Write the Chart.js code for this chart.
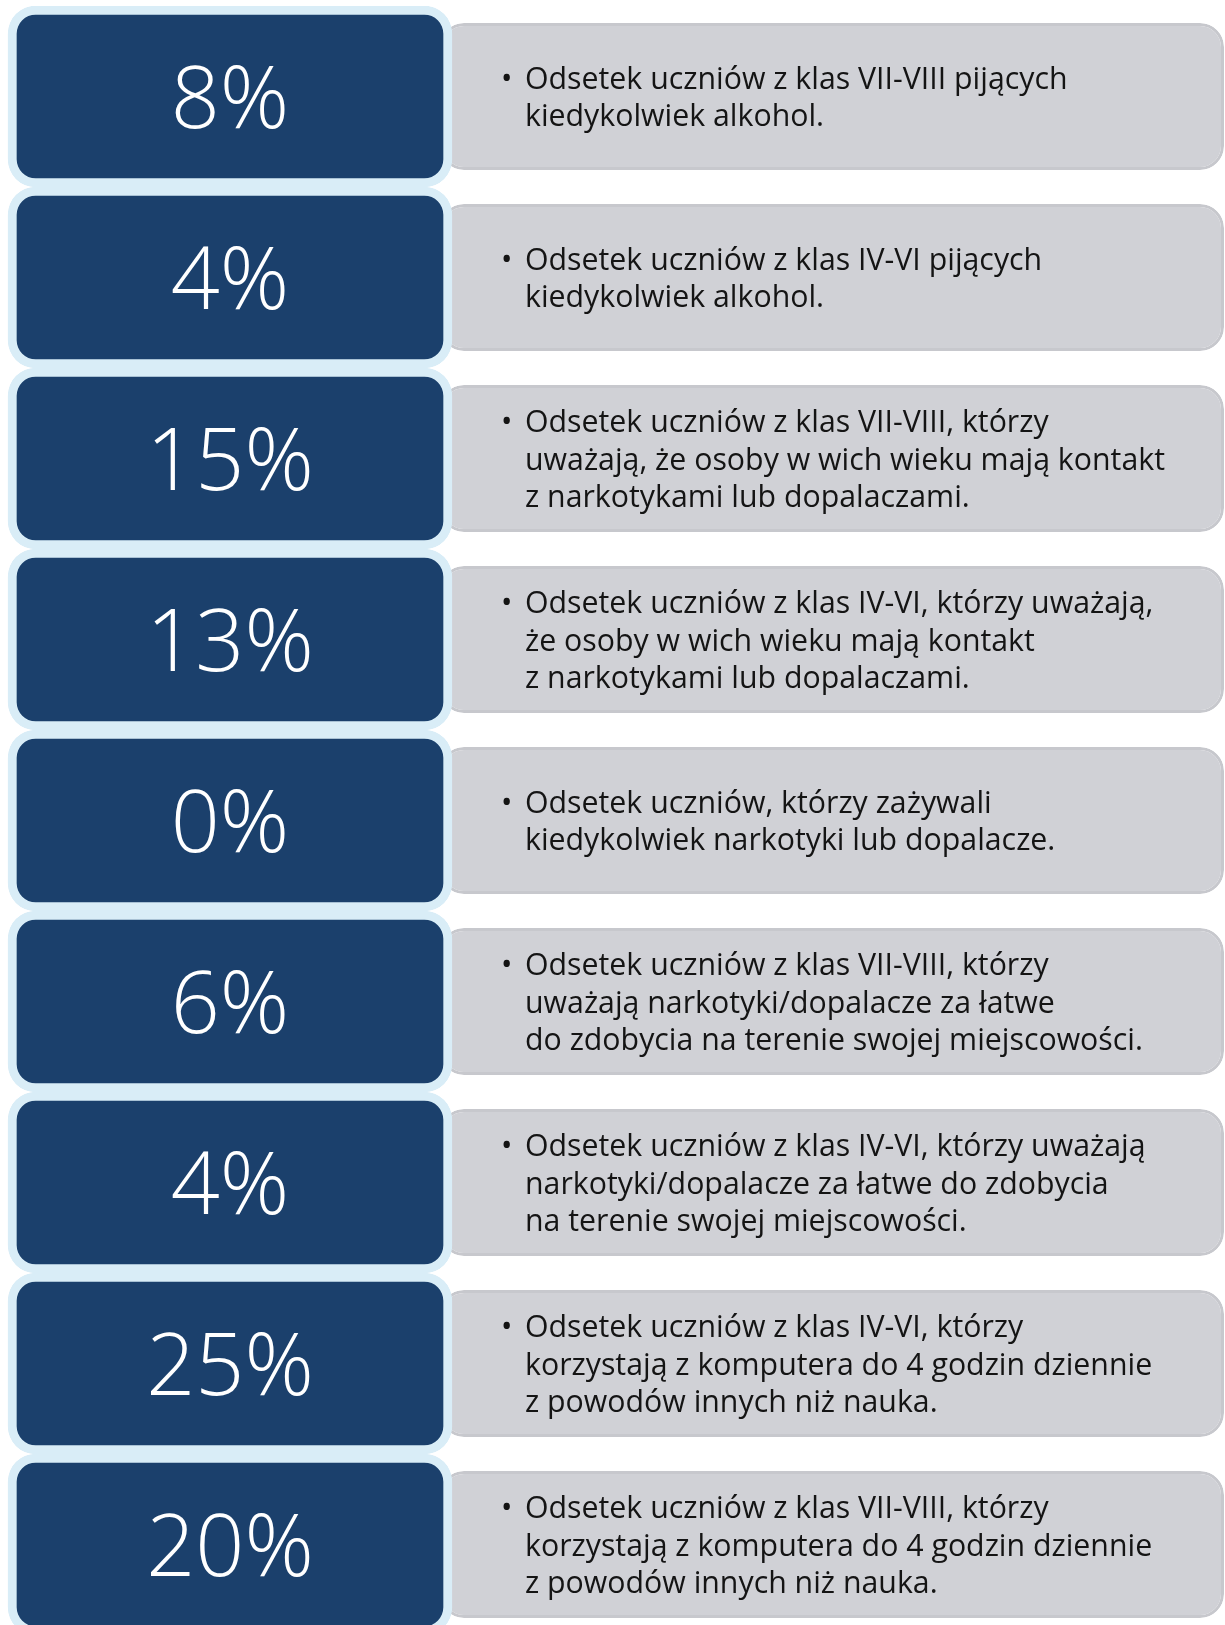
<!DOCTYPE html>
<html>
<head>
<meta charset="utf-8">
<script src="https://cdn.jsdelivr.net/npm/chart.js@4.4.0/dist/chart.umd.min.js"></script>
<style>
  html, body { margin: 0; padding: 0; background: #fff; overflow: hidden; }
  #wrap { width: 1225px; height: 1641px; }
</style>
</head>
<body>
<div id="wrap"><canvas id="infoChart" width="1225" height="1641"></canvas></div>
<script>
// percentages shown in the dark boxes
const values = [8, 4, 15, 13, 0, 6, 4, 25, 20];
const labels = values.map(v => v + '%');

// description lines for each row (same line breaks as the original)
const descriptions = [
    ['Odsetek uczniów z klas VII-VIII pijących', 'kiedykolwiek alkohol.'],
    ['Odsetek uczniów z klas IV-VI pijących', 'kiedykolwiek alkohol.'],
    ['Odsetek uczniów z klas VII-VIII, którzy', 'uważają, że osoby w wich wieku mają kontakt', 'z narkotykami lub dopalaczami.'],
    ['Odsetek uczniów z klas IV-VI, którzy uważają,', 'że osoby w wich wieku mają kontakt', 'z narkotykami lub dopalaczami.'],
    ['Odsetek uczniów, którzy zażywali', 'kiedykolwiek narkotyki lub dopalacze.'],
    ['Odsetek uczniów z klas VII-VIII, którzy', 'uważają narkotyki/dopalacze za łatwe', 'do zdobycia na terenie swojej miejscowości.'],
    ['Odsetek uczniów z klas IV-VI, którzy uważają', 'narkotyki/dopalacze za łatwe do zdobycia', 'na terenie swojej miejscowości.'],
    ['Odsetek uczniów z klas IV-VI, którzy', 'korzystają z komputera do 4 godzin dziennie', 'z powodów innych niż nauka.'],
    ['Odsetek uczniów z klas VII-VIII, którzy', 'korzystają z komputera do 4 godzin dziennie', 'z powodów innych niż nauka.']
];

// layout of the two panels on the x axis (page pixels)
const BOX_SPAN = [8, 452];
const TEXT_SPAN = [440, 1224];

const FONT = '"Open Sans", "Noto Sans", sans-serif';
const LINE_H = 37.4;

const textPlugin = {
    id: 'boxText',
    afterDatasetsDraw(chart) {
        const ctx = chart.ctx;
        const boxes = chart.getDatasetMeta(0).data;
        const panels = chart.getDatasetMeta(1).data;
        ctx.save();
        boxes.forEach((el, i) => {
            ctx.fillStyle = '#ffffff';
            ctx.font = '350 86px ' + FONT;
            ctx.textAlign = 'center';
            ctx.textBaseline = 'alphabetic';
            ctx.fillText(labels[i], (el.x + el.base) / 2, el.y + 31.5);
        });
        panels.forEach((el, i) => {
            const lines = descriptions[i];
            const left = Math.min(el.x, el.base);
            ctx.fillStyle = '#141414';
            ctx.font = '400 30.3px ' + FONT;
            ctx.textAlign = 'left';
            lines.forEach((line, j) => {
                const y = el.y + (j - (lines.length - 1) / 2) * LINE_H + 11;
                if (j === 0) ctx.fillText('•', left + 61, y);
                ctx.fillText(line, left + 85, y);
            });
        });
        ctx.restore();
    }
};

new Chart(document.getElementById('infoChart'), {
    type: 'bar',
    data: {
        labels: labels,
        datasets: [{
            label: 'value',
            data: values.map(() => BOX_SPAN),
            backgroundColor: '#1b406c',
            borderColor: '#d9edf7',
            borderWidth: 9,
            borderRadius: 28,
            borderSkipped: false,
            barPercentage: 1,
            categoryPercentage: 1,
            grouped: false
        }, {
            label: 'description',
            data: values.map(() => TEXT_SPAN),
            backgroundColor: '#d0d1d6',
            borderColor: '#c7c8cd',
            borderWidth: 3,
            borderRadius: 24,
            borderSkipped: false,
            barPercentage: 0.812,
            categoryPercentage: 1,
            grouped: false
        }]
    },
    options: {
        indexAxis: 'y',
        responsive: false,
        animation: false,
        devicePixelRatio: 1,
        layout: { padding: { top: 6, bottom: 6, left: 0, right: 0 } },
        plugins: { legend: { display: false }, tooltip: { enabled: false } },
        scales: {
            x: { type: 'linear', min: 0, max: 1225, display: false },
            y: { display: false }
        }
    },
    plugins: [textPlugin]
});
</script>
</body>
</html>
